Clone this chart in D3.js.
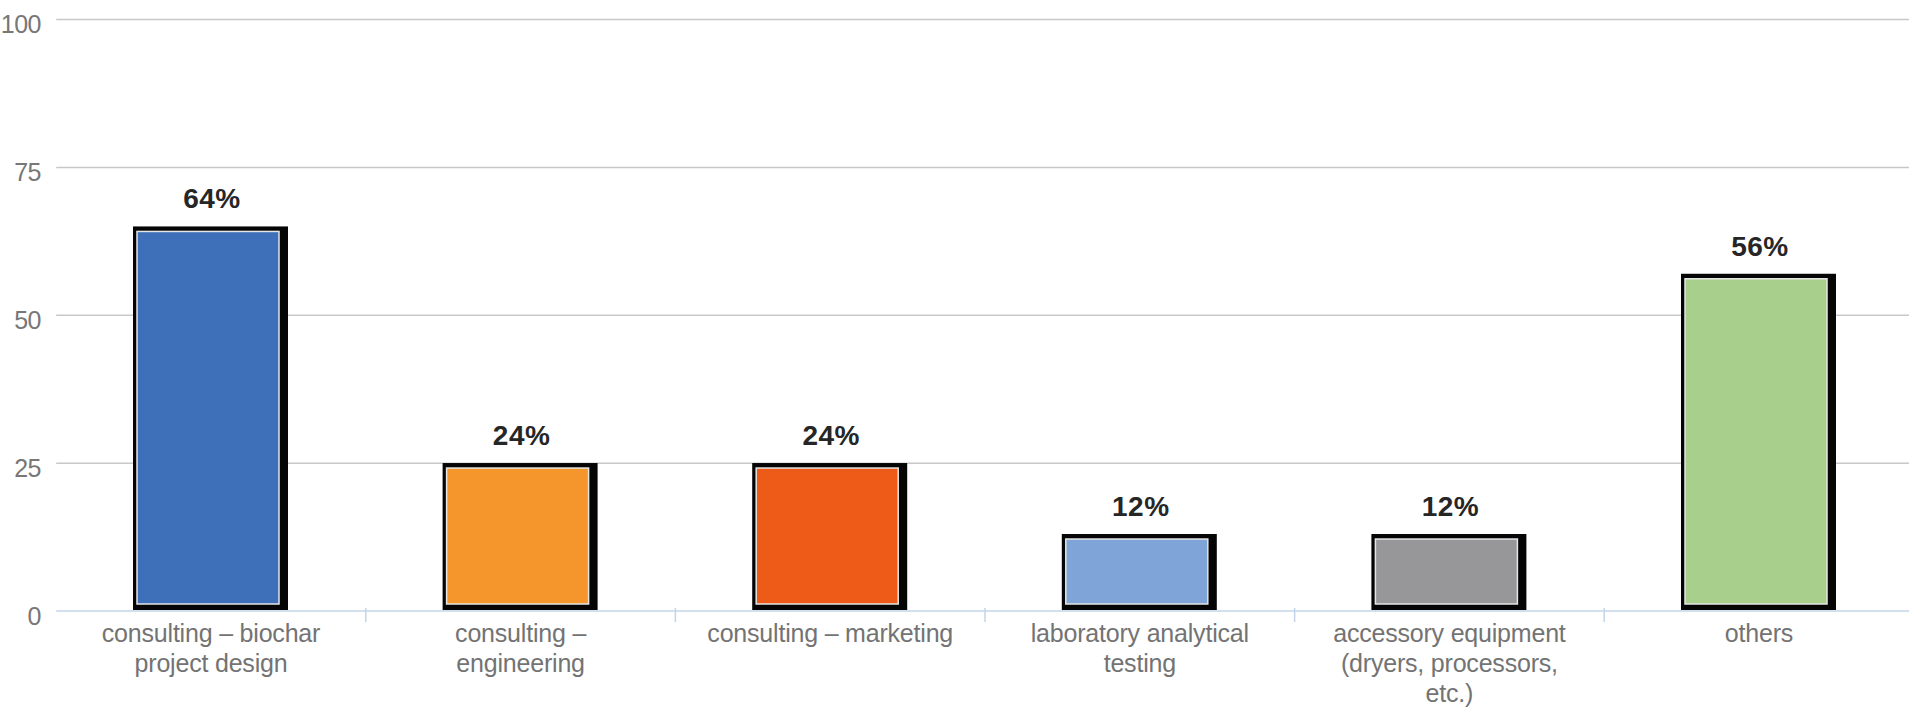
<!DOCTYPE html>
<html lang="en">
<head>
    <meta charset="UTF-8">
    <title>Services bar chart</title>
    <script src="https://d3js.org/d3.v7.min.js"></script>
    <style>
        body { margin: 0; background: #fff; }
        svg { display: block; }
    </style>
</head>
<body>
<script>
    // data
    var categories = [
        "consulting – biochar\nproject design",
        "consulting –\nengineering",
        "consulting – marketing",
        "laboratory analytical\ntesting",
        "accessory equipment\n(dryers, processors,\netc.)",
        "others"
    ];
    var values = [64, 24, 24, 12, 12, 56];
    var barColors = ["#3E70BA", "#F4962B", "#EE5B19", "#7FA5D8", "#97979A", "#A8CF8B"];
    var yTicks = [0, 25, 50, 75, 100];

    var width = 1909, height = 707;
    var left = 56.2, band = 309.6;

    var svg = d3.select("body").append("svg")
        .attr("width", width)
        .attr("height", height);

    var x = d3.scaleBand()
        .domain(categories)
        .range([left, left + band * categories.length])
        .padding(0);

    var y = d3.scaleLinear()
        .domain([0, 100])
        .range([611, 19.5]);

    // gridlines
    svg.append("g").selectAll("line")
        .data(yTicks.filter(function(d) { return d > 0; }))
        .enter().append("line")
        .attr("x1", left).attr("x2", width)
        .attr("y1", function(d) { return y(d); })
        .attr("y2", function(d) { return y(d); })
        .style("stroke", "#c8c8c8")
        .style("stroke-width", 1.5);

    // y labels
    svg.append("g").selectAll("text")
        .data(yTicks)
        .enter().append("text")
        .attr("x", 41)
        .attr("y", function(d) { return y(d) + 13.6; })
        .attr("text-anchor", "end")
        .style("font-family", "'Liberation Sans', Arial, sans-serif")
        .style("font-size", "25px")
        .style("letter-spacing", "-0.5px")
        .style("fill", "#777")
        .text(function(d) { return d; });

    // bars: black shadow box, light edge, coloured fill
    var bars = svg.append("g").selectAll("g")
        .data(categories)
        .enter().append("g");

    function cx(d) { return x(d) + x.bandwidth() / 2; }

    bars.append("rect")
        .attr("x", function(d) { return cx(d) - 78; })
        .attr("y", function(d, i) { return y(values[i]) - 6; })
        .attr("width", 155)
        .attr("height", function(d, i) { return y(0) - y(values[i]) + 5; })
        .style("fill", "#050505");

    bars.append("rect")
        .attr("x", function(d) { return cx(d) - 74; })
        .attr("y", function(d, i) { return y(values[i]) - 1; })
        .attr("width", 142)
        .attr("height", function(d, i) { return y(0) - y(values[i]) - 6; })
        .style("fill", function(d, i) { return barColors[i]; })
        .style("stroke", "#e6e6e6")
        .style("stroke-width", 1.5);

    // x axis line and ticks
    svg.append("line")
        .attr("x1", left).attr("x2", width)
        .attr("y1", y(0)).attr("y2", y(0))
        .style("stroke", "#c3d4e8")
        .style("stroke-width", 1.5);

    svg.append("g").selectAll("line")
        .data(categories.slice(1))
        .enter().append("line")
        .attr("x1", function(d) { return x(d); })
        .attr("x2", function(d) { return x(d); })
        .attr("y1", y(0) - 3).attr("y2", y(0) + 11)
        .style("stroke", "#c3d4e8")
        .style("stroke-width", 1.5);

    // value labels
    svg.append("g").selectAll("text")
        .data(categories)
        .enter().append("text")
        .attr("x", function(d) { return cx(d) + 1; })
        .attr("y", function(d, i) { return y(values[i]) - 24; })
        .attr("text-anchor", "middle")
        .style("font-family", "'Liberation Sans', Arial, sans-serif")
        .style("font-size", "28px")
        .style("font-weight", "bold")
        .style("letter-spacing", "0.5px")
        .style("fill", "#262626")
        .text(function(d, i) { return values[i] + "%"; });

    // category labels
    var cat = svg.append("g").selectAll("text")
        .data(categories)
        .enter().append("text")
        .attr("x", function(d) { return cx(d); })
        .attr("y", 642)
        .attr("text-anchor", "middle")
        .style("font-family", "'Liberation Sans', Arial, sans-serif")
        .style("font-size", "25px")
        .style("letter-spacing", "-0.2px")
        .style("fill", "#737373");

    cat.selectAll("tspan")
        .data(function(d) { return d.split("\n"); })
        .enter().append("tspan")
        .attr("x", function() { return cx(this.parentNode.__data__); })
        .attr("dy", function(d, i) { return i === 0 ? 0 : 30; })
        .text(function(d) { return d; });
</script>
</body>
</html>
